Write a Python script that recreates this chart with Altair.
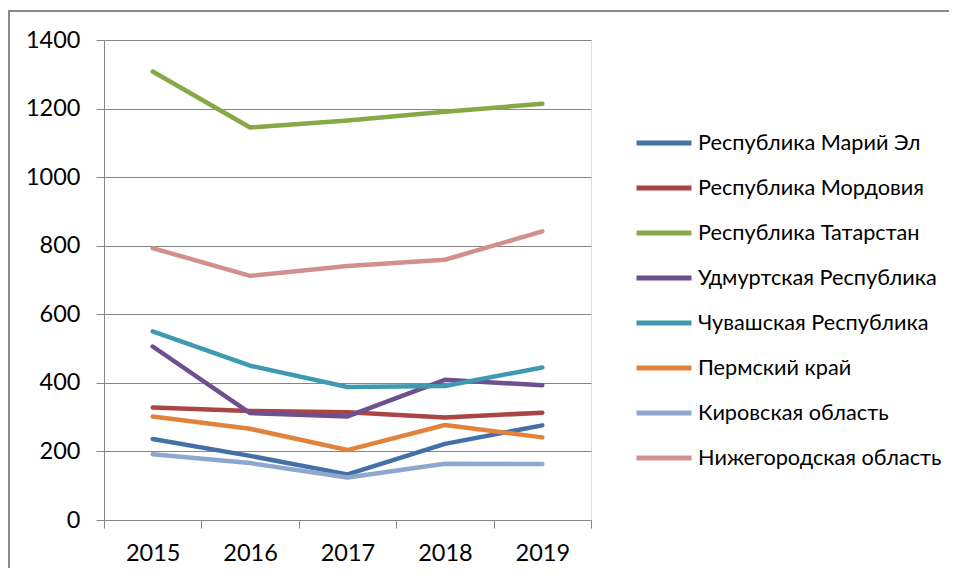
import altair as alt
import pandas as pd

years = ["2015", "2016", "2017", "2018", "2019"]
series_names = [
    "Республика Марий Эл",
    "Республика Мордовия",
    "Республика Татарстан",
    "Удмуртская Республика",
    "Чувашская Республика",
    "Пермский край",
    "Кировская область",
    "Нижегородская область",
]
mari_el = [236, 187, 133, 222, 276]
mordovia = [328, 318, 314, 299, 313]
tatarstan = [1308, 1145, 1165, 1191, 1214]
udmurtia = [506, 312, 302, 409, 393]
chuvashia = [550, 450, 388, 391, 445]
perm = [302, 266, 204, 277, 241]
kirov = [192, 166, 124, 164, 163]
nizhny = [793, 712, 741, 759, 842]
colors = ["#4470A8", "#AA4543", "#86A845", "#6C5090", "#3E9AB0", "#E2833B", "#8DA7CF", "#D18F8E"]

values = [mari_el, mordovia, tatarstan, udmurtia, chuvashia, perm, kirov, nizhny]
rows = []
for i, (name, vals) in enumerate(zip(series_names, values)):
    for y, v in zip(years, vals):
        rows.append({"Год": y, "Значение": v, "Регион": name, "order": i})
df = pd.DataFrame(rows)

FONT = "Lato"
W, H = 487, 480

lines = alt.Chart(df).mark_line(strokeWidth=4.5, strokeCap="round", strokeJoin="round").encode(
    x=alt.X("Год:O", sort=years,
            scale=alt.Scale(paddingInner=0, paddingOuter=0),
            axis=alt.Axis(title=None, labelAngle=0, tickBand="extent", domainColor="#868686",
                          tickColor="#868686", tickSize=8, labelPadding=13, labelFontSize=23.5,
                          labelFont=FONT, labelColor="#000000", grid=False)),
    y=alt.Y("Значение:Q", scale=alt.Scale(domain=[0, 1400], nice=False),
            axis=alt.Axis(title=None, values=[0, 200, 400, 600, 800, 1000, 1200, 1400],
                          format="d",
                          domainColor="#868686", tickColor="#868686", tickSize=8,
                          labelPadding=16, labelFontSize=23.5, labelFont=FONT, labelColor="#000000",
                          grid=True, gridColor="#868686", gridWidth=1)),
    color=alt.Color("Регион:N", sort=series_names,
                    scale=alt.Scale(domain=series_names, range=colors),
                    legend=alt.Legend(title=None, orient="none", legendX=530, legendY=73,
                                      symbolType="stroke", symbolSize=3025, symbolStrokeWidth=5,
                                      rowPadding=3, labelFontSize=21.7, labelFont=FONT,
                                      labelColor="#000000", labelOffset=4, labelLimit=400)),
    order=alt.Order("order:Q"),
    detail="Регион:N",
)

frame_v = alt.Chart(df).mark_rule(color="#8a8a8a", strokeWidth=1.5, clip=False).encode(
    x=alt.value(-95.5), y=alt.value(-29), y2=alt.value(H + 50)
)
frame_h = alt.Chart(df).mark_rule(color="#8a8a8a", strokeWidth=1.5, clip=False).encode(
    x=alt.value(-95.5), x2=alt.value(845), y=alt.value(-29)
)

chart = alt.layer(frame_v, frame_h, lines).properties(
    width=W, height=H,
    autosize=alt.AutoSizeParams(type="none"),
    padding={"left": 96, "top": 32, "right": 358, "bottom": 48},
).configure_view(stroke=None).configure(background="white")

chart.save("out.html", embed_options={"renderer": "svg", "actions": False})
